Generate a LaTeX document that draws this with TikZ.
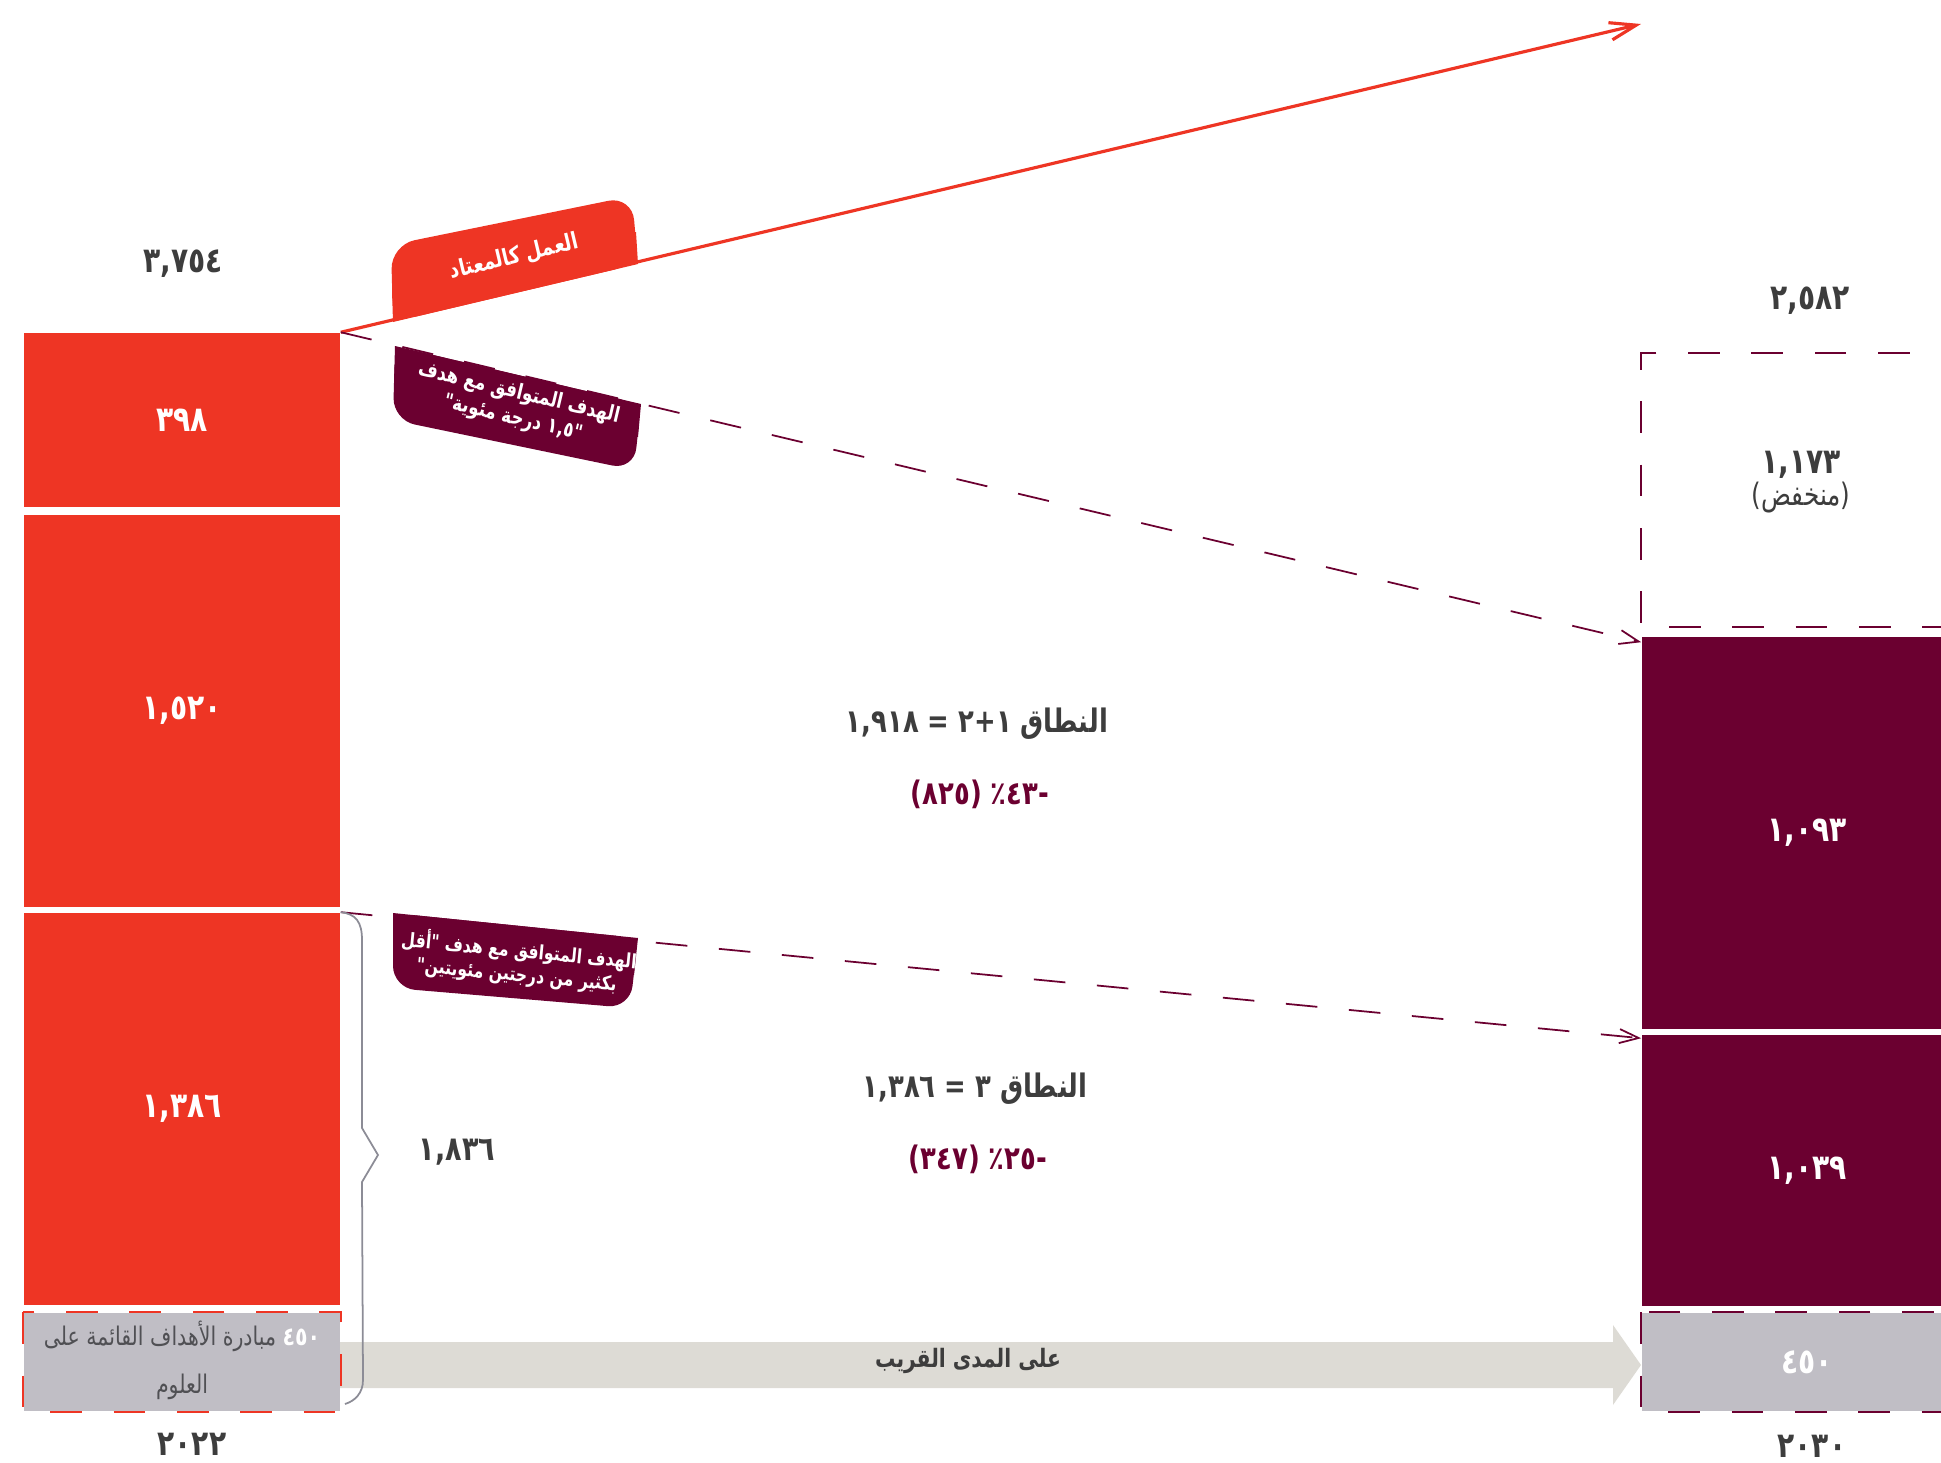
\documentclass[tikz,border=0pt]{standalone}
\usepackage{fontspec}
\usetikzlibrary{arrows.meta}
\TeXXeTstate=1
\newfontfamily\arabicfont[Script=Arabic]{DejaVu Sans}
\newfontfamily\numfont[Script=Arabic,FakeStretch=0.8]{DejaVu Sans}

\definecolor{bauRed}{RGB}{238,53,36}
\definecolor{wine}{RGB}{107,0,48}
\definecolor{sbtiGrey}{RGB}{192,190,197}
\definecolor{bandGrey}{RGB}{221,219,213}
\definecolor{txtGrey}{RGB}{61,61,61}
\definecolor{softGrey}{RGB}{80,80,84}
\definecolor{braceGrey}{RGB}{140,140,150}

\begin{document}
\begin{tikzpicture}[x=0.01cm,y=-0.01cm,
  every node/.style={inner sep=0pt,text=txtGrey},
  num/.style={font=\numfont\bfseries\fontsize{10}{12}\selectfont},
  scopetxt/.style={font=\numfont\bfseries\fontsize{9.2}{11}\selectfont},
  redbox/.style={num,fill=bauRed,text=white,minimum width=3.16cm},
  winebox/.style={num,fill=wine,text=white,minimum width=3.3cm},
  sbtibox/.style={fill=sbtiGrey,minimum height=0.98cm},
  tabtext/.style={text=white,align=center,font=\numfont\bfseries\fontsize{6}{7.3}\selectfont},
  bauline/.style={bauRed,line width=0.9pt,-{Straight Barb[length=7.5pt,width=5pt]}},
  targetline/.style={wine,line width=0.5pt,dash pattern=on 9pt off 9pt,-{Straight Barb[length=5.5pt,width=4pt]}},
  sbtiedge/.style={line width=0.6pt,dash pattern=on 9pt off 9pt}
]
\useasboundingbox (0,0) rectangle (1941,1463);

% short term band
\fill[bandGrey] (330,1342) -- (1613,1342) -- (1613,1325) -- (1641,1365) -- (1613,1405) -- (1613,1388) -- (330,1388) -- cycle;
\node[font=\numfont\bfseries\fontsize{7.2}{9}\selectfont] (nearterm) at (968,1361) {\beginR على المدى القريب\endR};

% 2022
\node[redbox,minimum height=1.74cm] (b398) at (182,420) {٣٩٨};
\node[redbox,minimum height=3.92cm] (b1520) at (182,711) {١,٥٢٠};
\node[redbox,minimum height=3.92cm] (b1386) at (182,1109) {١,٣٨٦};
\node[sbtibox,minimum width=3.16cm] (sbtiL) at (182,1362) {};
\draw[sbtiedge,bauRed] (sbtiL.north west) rectangle (sbtiL.south east);
\node[align=center,text=softGrey,font=\numfont\fontsize{7.3}{13.7}\selectfont] (sbtiLtxt) at (182,1360)
  {\beginR مبادرة الأهداف القائمة على\endR\ {\color{white}\bfseries ٤٥٠}\\\beginR العلوم\endR};
\node[num] (tot22) at (183,264) {٣,٧٥٤};
\node[num] (y22) at (192,1444) {٢٠٢٢};

% 2030
\node[minimum width=3.3cm,minimum height=2.72cm] (low) at (1807,490) {};
\draw[sbtiedge,wine] (low.north east) -- (low.north west) -- (low.south west) -- (low.south east);
\node[num] (lownum) at (1801,465) {١,١٧٣};
\node[font=\numfont\fontsize{8.8}{10}\selectfont] (lowlbl) at (1801,498) {\beginR(منخفض)\endR};
\node[winebox,minimum height=3.92cm] (b1093) at (1807,833) {١,٠٩٣};
\node[winebox,minimum height=2.71cm] (b1039) at (1807,1170.5) {١,٠٣٩};
\node[sbtibox,num,text=white,minimum width=3.3cm] (sbtiR) at (1807,1362) {٤٥٠};
\draw[sbtiedge,wine] (sbtiR.north west) rectangle (sbtiR.south east);
\node[num] (tot30) at (1810,301) {٢,٥٨٢};
\node[num] (y30) at (1812,1446) {٢٠٣٠};

% pathways
\coordinate (bauend) at (1641,24);
\draw[bauline] (b398.north east) -- (bauend);
\draw[targetline] (b398.north east) -- ([yshift=-0.06cm]b1093.north west);
\draw[targetline] (b1386.north east) -- ([yshift=-0.04cm]b1039.north west);

% tabs
\fill[bauRed,rounded corners=0.24cm] (393,322) -- (391,245) -- (632,196) -- (638,264) -- cycle;
\fill[bauRed] (393,322) -- (392,290) -- (636,232) -- (638,264) -- cycle;
\node[tabtext,font=\numfont\bfseries\fontsize{6.6}{8}\selectfont,rotate=13.4] (bau) at (514,257) {\beginR العمل كالمعتاد\endR};
\fill[wine,rounded corners=0.22cm] (395,346) -- (641,404) -- (634,470) -- (393,420) -- cycle;
\fill[wine] (395,346) -- (641,404) -- (638,437) -- (394,383) -- cycle;
\node[tabtext,rotate=-13.4] (t15) at (516,406) {\beginR الهدف المتوافق مع هدف\endR\\\beginR "١,٥ درجة مئوية"\endR};
\fill[wine,rounded corners=0.22cm] (393,913) -- (638,938) -- (630,1008) -- (393,988) -- cycle;
\fill[wine] (393,913) -- (638,938) -- (634,975) -- (393,950) -- cycle;
\node[tabtext,font=\numfont\bfseries\fontsize{5.6}{6.8}\selectfont,rotate=-5.5] (t2) at (518,962) {\beginR الهدف المتوافق مع هدف "أقل\endR\\\beginR بكثير من درجتين مئويتين"\endR};

% scopes
\node[scopetxt] (s12) at (977,724) {\beginR النطاق ١+٢ = ١,٩١٨\endR};
\node[scopetxt,text=wine] (s12pct) at (980,794) {\beginR -٤٣٪ (٨٢٥)\endR};
\node[scopetxt] (s3) at (975,1089) {\beginR النطاق ٣ = ١,٣٨٦\endR};
\node[scopetxt,text=wine] (s3pct) at (978,1159) {\beginR -٢٥٪ (٣٤٧)\endR};

% brace
\draw[braceGrey,line width=0.5pt] (b1386.north east) .. controls (356,914) and (362,922) .. (362,940) -- (362,1128) -- (378,1155) -- (362,1182) -- (363,1380) .. controls (363,1393) and (355,1401) .. (345,1404);
\node[font=\numfont\bfseries\fontsize{9.6}{12}\selectfont] (s3total) at (457,1152) {١,٨٣٦};
\end{tikzpicture}
\end{document}
